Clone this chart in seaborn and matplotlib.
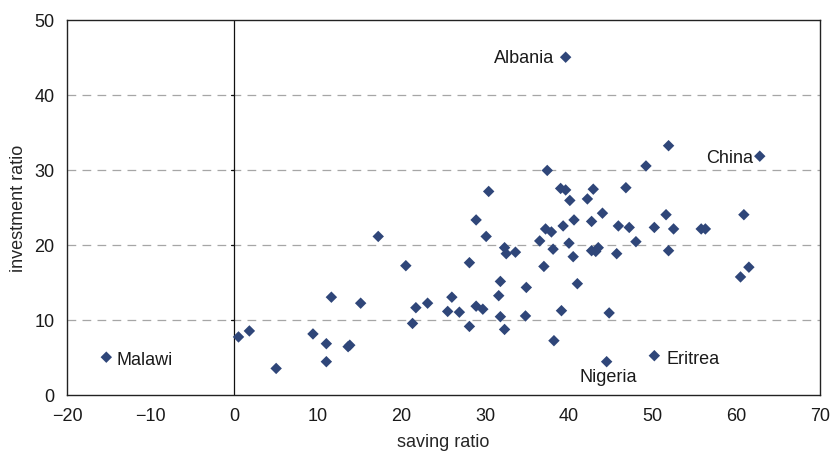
import matplotlib
matplotlib.use("Agg")
import matplotlib.pyplot as plt
import seaborn as sns
import pandas as pd

saving = [-15.3, 0.5, 1.8, 5.0, 9.4, 11.0, 11.0, 11.6, 13.6, 13.8, 15.1, 17.2, 20.5, 21.7, 21.3,
          23.1, 25.5, 26.0, 26.9, 28.1, 28.1, 28.9, 28.9, 29.7, 30.1, 30.4, 31.6, 31.8, 31.8,
          32.3, 32.3, 32.5, 33.6, 34.9, 34.8, 36.5, 37.0, 37.2, 37.9, 38.1, 38.2, 37.4, 39.0,
          39.6, 39.1, 39.3, 39.6, 40.0, 40.1, 40.5, 40.6, 41.0, 42.2, 42.7, 42.7, 42.9, 43.2,
          43.5, 44.0, 44.5, 44.8, 45.7, 45.9, 46.8, 47.2, 48.0, 49.2, 50.2, 50.2, 51.6, 51.9,
          51.9, 52.5, 55.8, 56.3, 60.5, 60.9, 61.5, 62.8]
investment = [5.0, 7.7, 8.5, 3.5, 8.1, 6.8, 4.4, 13.0, 6.4, 6.6, 12.2, 21.1, 17.2, 11.6, 9.5,
              12.2, 11.1, 13.0, 11.0, 9.1, 17.6, 23.3, 11.8, 11.4, 21.1, 27.1, 13.2, 15.1, 10.4,
              8.7, 19.6, 18.8, 19.0, 14.3, 10.5, 20.5, 17.1, 22.1, 21.7, 19.4, 7.2, 29.9, 27.5,
              27.3, 11.2, 22.5, 45.0, 20.2, 25.9, 18.4, 23.3, 14.8, 26.1, 23.1, 19.2, 27.4, 19.1,
              19.6, 24.2, 4.4, 10.9, 18.8, 22.5, 27.6, 22.3, 20.4, 30.5, 22.3, 5.2, 24.0, 33.2,
              19.2, 22.1, 22.1, 22.1, 15.7, 24.0, 17.0, 31.8]

label_names = ["Albania", "China", "Malawi", "Eritrea", "Nigeria"]
label_x = [39.6, 62.8, -15.3, 50.2, 44.5]
label_y = [45.0, 31.8, 5.0, 5.2, 4.4]

x_ticks = [-20, -10, 0, 10, 20, 30, 40, 50, 60, 70]
y_ticks = [0, 10, 20, 30, 40, 50]

sns.set_style("white")
plt.rcParams['font.family'] = ['Liberation Sans', 'DejaVu Sans']

df = pd.DataFrame({"saving ratio": saving, "investment ratio": investment})

fig = plt.figure(figsize=(8.33, 4.52), dpi=100)
ax = fig.add_axes([0.0804, 0.1246, 0.904, 0.8296])

ax.set_axisbelow(True)
for t in y_ticks[1:-1]:
    ax.axhline(t, color="#a6a6a6", lw=0.9, ls=(0, (7, 5)), zorder=0)
ax.axvline(0, color="#111111", lw=0.9, zorder=1)

sns.scatterplot(data=df, x="saving ratio", y="investment ratio", marker="D", s=34,
                color="#2f4679", edgecolor="none", linewidth=0, ax=ax, zorder=3)

ax.set_xlim(-20, 70)
ax.set_ylim(0, 50)
ax.set_xticks(x_ticks)
ax.set_yticks(y_ticks)
ax.set_xticklabels([str(v).replace("-", "\u2212") for v in x_ticks])
ax.tick_params(axis="both", labelsize=13, colors="#1a1a1a")
ax.tick_params(axis="x", direction="out", length=4, width=0.9, pad=5)
ax.tick_params(axis="y", direction="in", length=2, width=0.9, pad=9)

# small tick marks on the zero line (axis crossing)
for t in y_ticks[1:-1]:
    ax.plot([-0.45, 0], [t, t], color="#111111", lw=0.9, zorder=1)

for side in ["left", "bottom", "top", "right"]:
    ax.spines[side].set_visible(True)
    ax.spines[side].set_color("#222222")
    ax.spines[side].set_linewidth(1.0)

ax.set_xlabel("saving ratio", fontsize=13, labelpad=6)
ax.set_ylabel("investment ratio", fontsize=13, labelpad=5)

offsets = {"Albania": ((-8, 0), "right", "center"),
           "China": ((-5, -1), "right", "center"),
           "Malawi": ((7.5, -2), "left", "center"),
           "Eritrea": ((8.5, -2), "left", "center"),
           "Nigeria": ((1, -11), "center", "center")}
for name, lx, ly in zip(label_names, label_x, label_y):
    off, ha, va = offsets[name]
    ax.annotate(name, (lx, ly), xytext=off, textcoords="offset points",
                ha=ha, va=va, fontsize=13, color="#1a1a1a")

fig.savefig("out.png", dpi=100)
